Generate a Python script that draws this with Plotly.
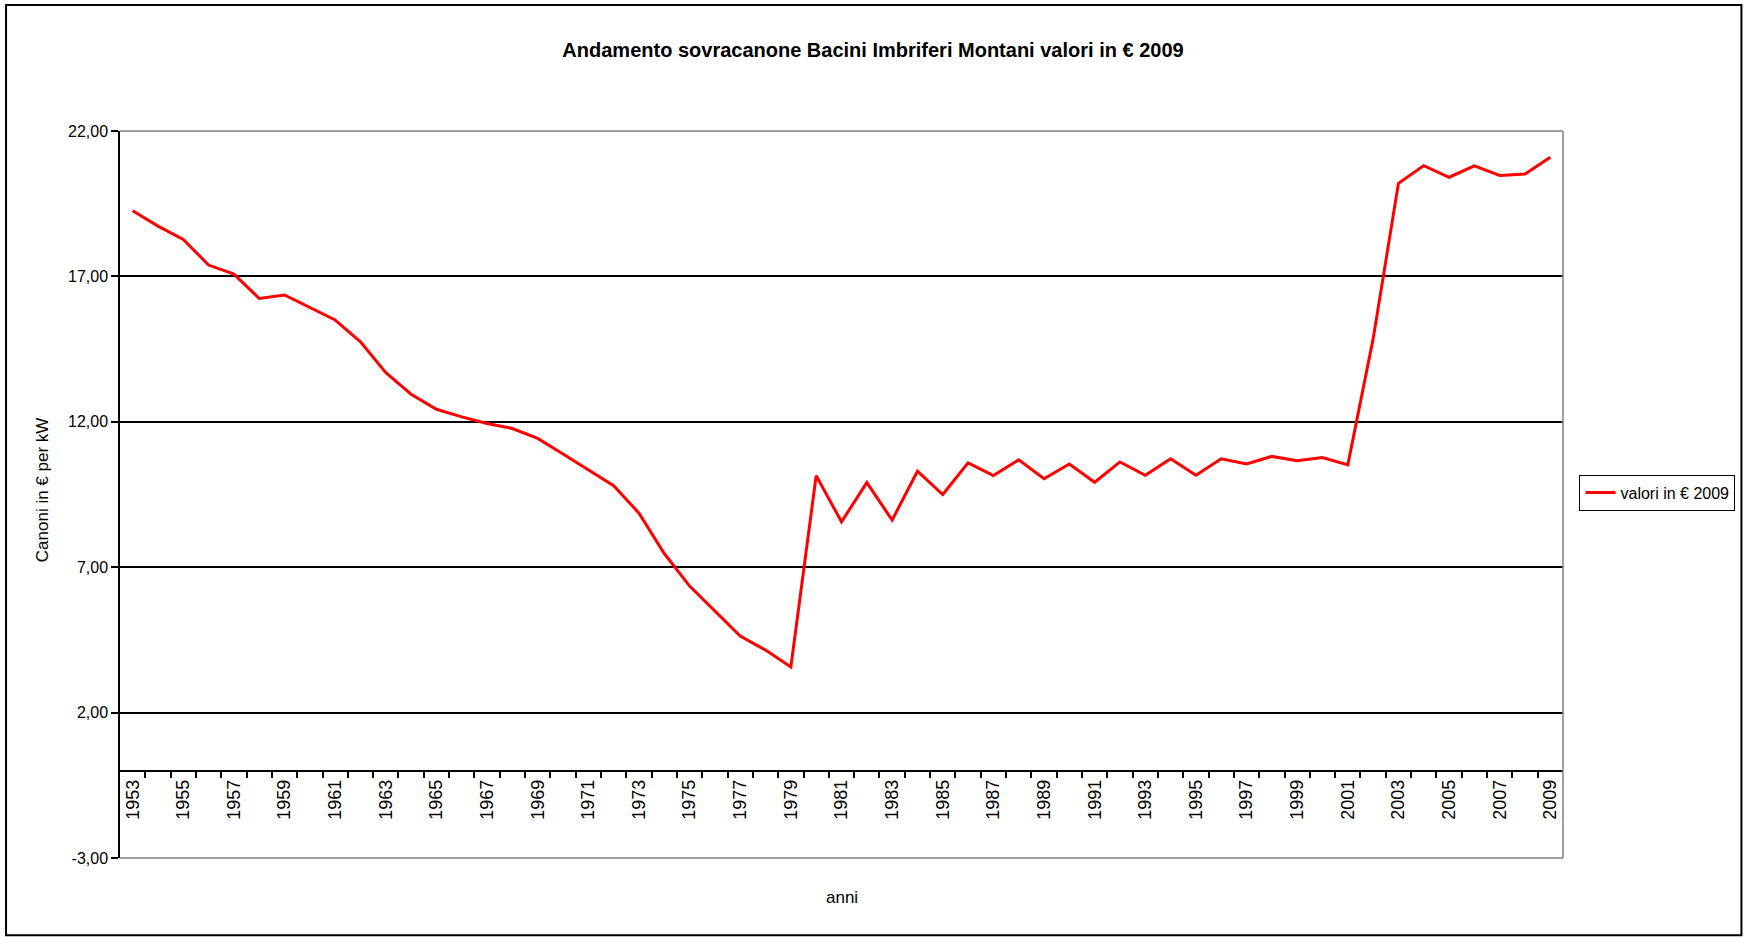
import plotly.graph_objects as go

# Annual series (€ per kW, 2009 values)
years = [
    1953, 1954, 1955, 1956, 1957, 1958, 1959, 1960, 1961, 1962,
    1963, 1964, 1965, 1966, 1967, 1968, 1969, 1970, 1971, 1972,
    1973, 1974, 1975, 1976, 1977, 1978, 1979, 1980, 1981, 1982,
    1983, 1984, 1985, 1986, 1987, 1988, 1989, 1990, 1991, 1992,
    1993, 1994, 1995, 1996, 1997, 1998, 1999, 2000, 2001, 2002,
    2003, 2004, 2005, 2006, 2007, 2008, 2009,
]
valori = [
    19.26, 18.73, 18.27, 17.39, 17.08, 16.24, 16.36, 15.92, 15.50, 14.75,
    13.69, 12.95, 12.43, 12.17, 11.94, 11.77, 11.43, 10.89, 10.34, 9.80,
    8.86, 7.47, 6.35, 5.49, 4.63, 4.15, 3.57, 10.15, 8.56, 9.91,
    8.62, 10.30, 9.50, 10.59, 10.15, 10.69, 10.04, 10.55, 9.92, 10.62,
    10.16, 10.73, 10.16, 10.73, 10.55, 10.81, 10.66, 10.77, 10.52, 14.85,
    20.20, 20.81, 20.41, 20.80, 20.47, 20.52, 21.10,
]

# Axis ticks
y_tick_values = [-3, 2, 7, 12, 17, 22]
y_tick_labels = ["-3,00", "2,00", "7,00", "12,00", "17,00", "22,00"]
x_label_years = years[::2]
x_tick_labels = [str(y) for y in x_label_years]

series_name = "valori in € 2009"
title_text = "Andamento sovracanone Bacini Imbriferi Montani valori in € 2009"
y_title = "Canoni in € per kW"
x_title = "anni"

FONT = "Liberation Sans Narrow, Arial Narrow, Liberation Sans, Arial, sans-serif"

W, H = 1746, 937
L, R, T, B = 120, 182.5, 131, 79.3
PW, PH = W - L - R, H - T - B


def px_x(px):
    return (px - L) / PW


def px_y(py):
    return (H - B - py) / PH


fig = go.Figure()
fig.add_trace(go.Scatter(
    x=years, y=valori, mode="lines", name=series_name,
    line=dict(color="#FF0000", width=3),
    showlegend=True,
))

y_min, y_max = y_tick_values[0], y_tick_values[-1]

fig.update_layout(
    width=W, height=H, autosize=False,
    margin=dict(l=L, r=R, t=T, b=B, pad=0, autoexpand=False),
    paper_bgcolor="white", plot_bgcolor="white",
    font=dict(family=FONT, color="black", size=17),
    title=dict(
        text="<b>" + title_text + "</b>",
        xref="container", x=0.5, xanchor="center",
        yref="container", y=1 - 50 / H, yanchor="middle",
        font=dict(family=FONT, size=20, color="black"),
    ),
    xaxis=dict(
        type="linear", range=[years[0] - 0.5, years[-1] + 0.5],
        anchor="free", position=(0 - y_min) / (y_max - y_min),
        showline=True, linecolor="black", linewidth=1.5,
        showgrid=False, zeroline=False,
        tickmode="array", tickvals=x_label_years, ticktext=x_tick_labels,
        tickangle=-90, ticks="outside", ticklen=1, tickcolor="rgba(0,0,0,0)",
        tickfont=dict(family=FONT, size=18, color="black"),
        minor=dict(
            tickmode="array",
            tickvals=[y + 0.5 for y in years[:-1]],
            ticks="outside", ticklen=6, tickwidth=1.5, tickcolor="black",
            showgrid=False,
        ),
    ),
    yaxis=dict(
        range=[y_min, y_max],
        tickmode="array", tickvals=y_tick_values, ticktext=y_tick_labels,
        showgrid=True, gridcolor="black", gridwidth=1.5,
        showline=True, linecolor="black", linewidth=1.5,
        ticks="outside", ticklen=7, tickwidth=1.5, tickcolor="black",
        zeroline=False,
        tickfont=dict(family=FONT, size=16, color="black"),
    ),
    legend=dict(
        x=px_x(1580), xanchor="left", y=px_y(492.5), yanchor="middle",
        bgcolor="white", bordercolor="black", borderwidth=1,
        font=dict(family=FONT, size=16, color="black"),
    ),
    annotations=[
        dict(text=y_title, xref="paper", yref="paper",
             x=px_x(42), y=px_y(490), textangle=-90, showarrow=False,
             xanchor="center", yanchor="middle",
             font=dict(family=FONT, size=17, color="black")),
        dict(text=x_title, xref="paper", yref="paper",
             x=0.5, y=px_y(897), showarrow=False,
             xanchor="center", yanchor="middle",
             font=dict(family=FONT, size=17, color="black")),
    ],
    shapes=[
        # plot-area frame (top, right, bottom)
        dict(type="line", xref="paper", yref="paper", x0=0, x1=1, y0=1, y1=1,
             line=dict(color="#808080", width=1.5), layer="above"),
        dict(type="line", xref="paper", yref="paper", x0=1, x1=1, y0=0, y1=1,
             line=dict(color="#808080", width=1.5), layer="above"),
        dict(type="line", xref="paper", yref="paper", x0=0, x1=1, y0=0, y1=0,
             line=dict(color="#808080", width=1.5), layer="above"),
        # chart-area border
        dict(type="rect", xref="paper", yref="paper",
             x0=px_x(6), x1=px_x(1742), y0=px_y(935), y1=px_y(5),
             line=dict(color="black", width=2), layer="above"),
    ],
)

fig.write_html("out.html")
